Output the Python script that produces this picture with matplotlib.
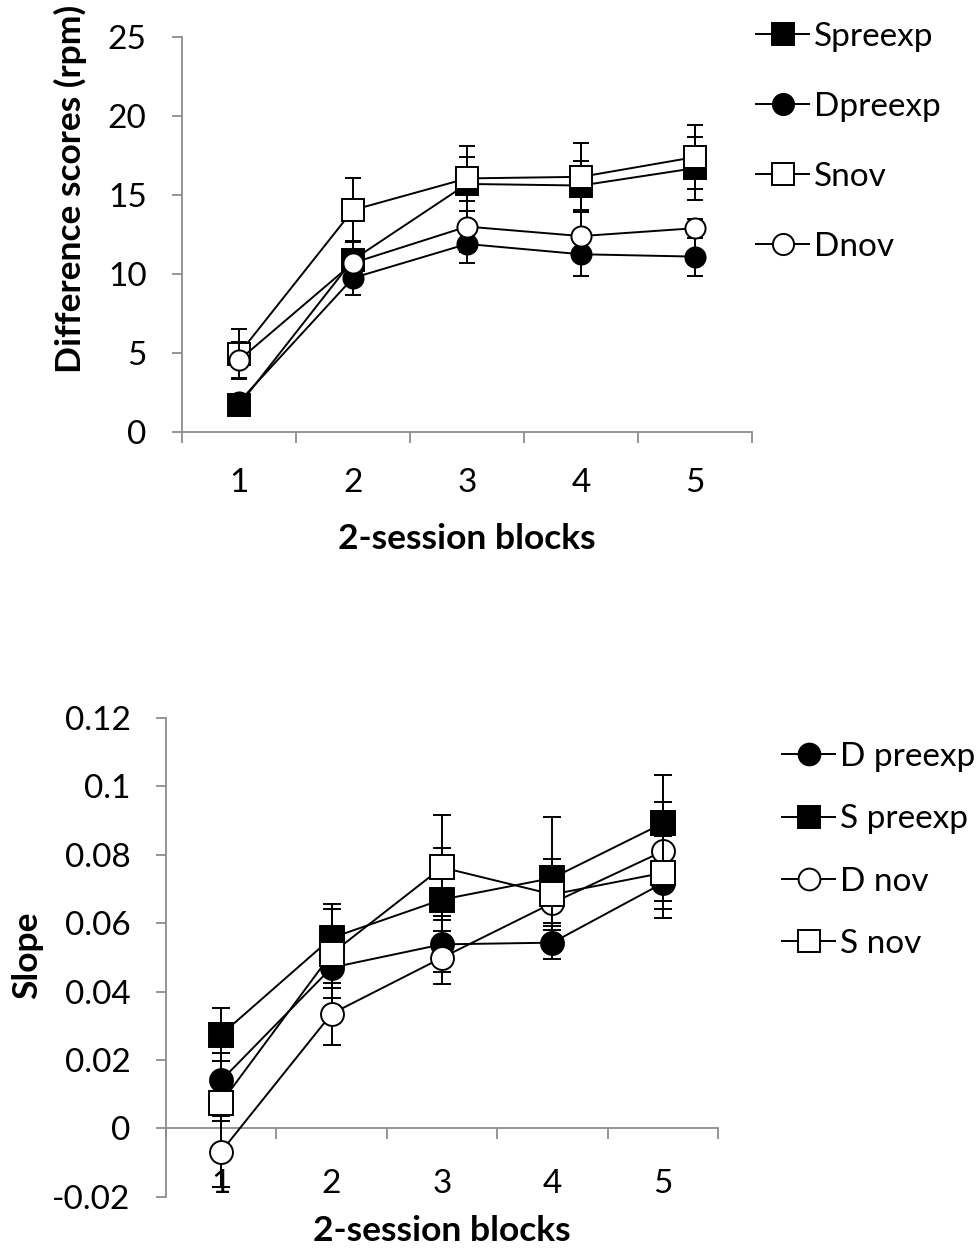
import matplotlib
matplotlib.use("Agg")
import matplotlib.pyplot as plt
import numpy as np

plt.rcParams['font.family'] = ['Lato', 'DejaVu Sans']

# ---------------- data ----------------
blocks = [1, 2, 3, 4, 5]
block_labels = ["1", "2", "3", "4", "5"]

# Top panel: difference scores (rpm)
top_names = ["Spreexp", "Dpreexp", "Snov", "Dnov"]
top_markers = ["s", "o", "s", "o"]
top_fills = ["black", "black", "white", "white"]
spreexp = [1.7, 10.9, 15.7, 15.6, 16.7]
spreexp_err = [0.5, 1.2, 1.7, 1.55, 2.0]
dpreexp = [1.9, 9.75, 11.9, 11.25, 11.1]
dpreexp_err = [0.5, 1.05, 1.2, 1.35, 1.2]
snov = [4.95, 14.05, 16.05, 16.15, 17.4]
snov_err = [1.6, 2.0, 2.05, 2.15, 2.0]
dnov = [4.55, 10.7, 13.0, 12.4, 12.9]
dnov_err = [1.15, 1.4, 1.6, 1.5, 0.6]
top_values = [spreexp, dpreexp, snov, dnov]
top_errors = [spreexp_err, dpreexp_err, snov_err, dnov_err]
top_yticks = [0, 5, 10, 15, 20, 25]

# Bottom panel: slope
bot_names = ["D preexp", "S preexp", "D nov", "S nov"]
bot_markers = ["o", "s", "o", "s"]
bot_fills = ["black", "black", "white", "white"]
d_preexp = [0.014, 0.047, 0.0538, 0.0543, 0.0717]
d_preexp_err = [0.008, 0.006, 0.0082, 0.0048, 0.0101]
s_preexp = [0.0274, 0.0557, 0.0669, 0.0732, 0.0892]
s_preexp_err = [0.0077, 0.0099, 0.015, 0.0179, 0.0142]
d_nov = [-0.0068, 0.0335, 0.0499, 0.0659, 0.081]
d_nov_err = [0.0104, 0.009, 0.0077, 0.006, 0.0145]
s_nov = [0.0075, 0.0511, 0.0763, 0.0684, 0.0747]
s_nov_err = [0.0055, 0.0129, 0.0153, 0.0104, 0.0107]
bot_values = [d_preexp, s_preexp, d_nov, s_nov]
bot_errors = [d_preexp_err, s_preexp_err, d_nov_err, s_nov_err]
bot_yticks = [-0.02, 0, 0.02, 0.04, 0.06, 0.08, 0.1, 0.12]
bot_yticklabels = ["-0.02", "0", "0.02", "0.04", "0.06", "0.08", "0.1", "0.12"]

# ---------------- figure ----------------
W, H = 977, 1248
fig = plt.figure(figsize=(W / 100, H / 100), dpi=100)
AX_COL = "#8c8c8c"
FS = 24
LFS = 25.5


def fx(px):
    return px / W


def fy(py):
    return 1 - py / H


def style_axes(ax, xpad, ypad):
    for s in ["top", "right"]:
        ax.spines[s].set_visible(False)
    for s in ["left", "bottom"]:
        ax.spines[s].set_color(AX_COL)
        ax.spines[s].set_linewidth(1.3)
    ax.set_xlim(0.5, 5.5)
    ax.set_xticks(blocks)
    ax.set_xticklabels(block_labels)
    ax.set_xticks(np.arange(0.5, 5.6, 1.0), minor=True)
    ax.tick_params(axis="x", which="major", length=0, pad=xpad, labelsize=FS)
    ax.tick_params(axis="x", which="minor", length=8, width=1.3, color=AX_COL, direction="out")
    ax.tick_params(axis="y", which="major", length=7.5, width=1.3, color=AX_COL, direction="out",
                   labelsize=FS, pad=ypad)


def draw_series(ax, values, errors, markers, fills, names, ms_sq, ms_ci, cap):
    handles = []
    for i, (v, e, m, f, n) in enumerate(zip(values, errors, markers, fills, names)):
        ms = ms_sq if m == "s" else ms_ci
        cont = ax.errorbar(blocks, v, yerr=e, fmt="-", color="black", lw=1.4,
                           marker=m, ms=ms, mfc=f, mec="black", mew=1.4,
                           ecolor="black", elinewidth=1.4, capsize=cap, capthick=1.4,
                           zorder=3 + i, label=n, clip_on=False)
        for art in cont.get_children():
            art.set_clip_on(False)
        handles.append(cont.lines[0])
    return handles


# ---- top panel ----
ax1 = fig.add_axes([fx(182), fy(432), fx(752) - fx(182), fy(37) - fy(432)])
style_axes(ax1, xpad=26, ypad=18)
ax1.set_ylim(0, 25)
ax1.set_yticks(top_yticks)
h1 = draw_series(ax1, top_values, top_errors, top_markers, top_fills, top_names, 15.5, 14.5, 6)
fig.text(fx(70), fy(189), "Difference scores (rpm)", rotation=90, ha="center", va="center",
         fontsize=LFS, fontweight="bold")
fig.text(fx(467), fy(539), "2-session blocks", ha="center", va="center",
         fontsize=LFS, fontweight="bold")
fig.legend(handles=h1, labels=top_names, loc="upper left",
           bbox_to_anchor=(fx(756), fy(22)), frameon=False, fontsize=FS,
           handlelength=1.6, handletextpad=0.15, labelspacing=1.2,
           borderpad=0, borderaxespad=0, markerscale=1.05)

# ---- bottom panel ----
ax2 = fig.add_axes([fx(166), fy(1196.7), fx(718) - fx(166), fy(718) - fy(1196.7)])
ax2.spines["bottom"].set_position(("data", 0))
style_axes(ax2, xpad=29, ypad=18)
ax2.set_ylim(-0.02, 0.12)
ax2.set_yticks(bot_yticks)
ax2.set_yticklabels(bot_yticklabels)
h2 = draw_series(ax2, bot_values, bot_errors, bot_markers, bot_fills, bot_names, 17, 16.5, 6.5)
fig.text(fx(27), fy(955), "Slope", rotation=90, ha="center", va="center",
         fontsize=LFS, fontweight="bold")
fig.text(fx(442), fy(1231), "2-session blocks", ha="center", va="center",
         fontsize=LFS, fontweight="bold")
fig.legend(handles=h2, labels=bot_names, loc="upper left",
           bbox_to_anchor=(fx(782), fy(742)), frameon=False, fontsize=FS,
           handlelength=1.6, handletextpad=0.15, labelspacing=0.97,
           borderpad=0, borderaxespad=0, markerscale=0.95)

fig.savefig("out.png", dpi=100)
